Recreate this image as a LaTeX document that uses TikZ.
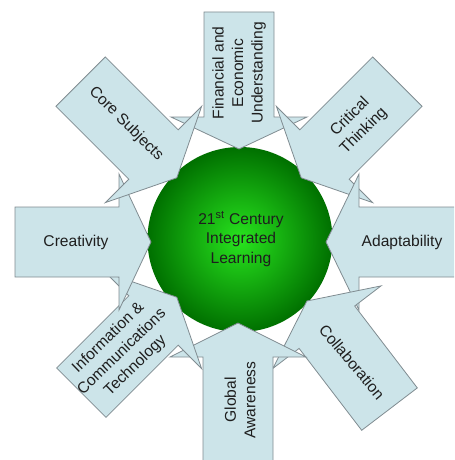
\documentclass[tikz,border=0pt]{standalone}
\usepackage{amsmath}
\usepackage{fontspec}
\setmainfont{Liberation Sans}
\definecolor{armfill}{RGB}{204,228,233}
\definecolor{armline}{RGB}{128,140,145}
\definecolor{ballinner}{RGB}{40,228,30}
\definecolor{ballouter}{RGB}{0,112,0}
\definecolor{armink}{RGB}{30,30,30}

\begin{document}
\begin{tikzpicture}[x=0.75pt,y=0.75pt,yscale=-1,xscale=1,
  blockarrow/.style={draw=armline, fill=armfill, line width=0.6, line join=miter},
  armtext/.style={font=\fontsize{11.7}{14.6}\selectfont, text=armink, align=center, inner sep=0.75pt}]
\useasboundingbox (0,0) rectangle (454,460);
\clip (0,0) rectangle (454,460);

%Shape: Circle [centre ball]
\draw [draw=none, inner color=ballinner, outer color=ballouter] (240,239.5) circle (92.5) ;

%Shape: Block Arrow [financial, down]
\draw [blockarrow] (239,149) -- (307,117) -- (274,117) -- (274,12) -- (204,12) -- (204,117) -- (171,117) -- cycle ;
%Shape: Block Arrow [critical, down left]
\draw [blockarrow] (301.2,177.8) -- (276.4,106.4) -- (299.8,129.8) -- (372.7,56.9) -- (422.1,106.3) -- (349.2,179.2) -- (372.6,202.6) -- cycle ;
%Shape: Block Arrow [adaptability, left]
\draw [blockarrow] (326,242) -- (359,174) -- (359,207) -- (470,207) -- (470,277) -- (359,277) -- (359,310) -- cycle ;
%Shape: Block Arrow [collaboration, up left]
\draw [blockarrow] (306.9,301) -- (381,285.9) -- (354.7,306) -- (417.3,387.9) -- (361.7,430.3) -- (299.1,348.4) -- (272.8,368.5) -- cycle ;
%Shape: Block Arrow [global, up]
\draw [blockarrow] (238,323) -- (306,357) -- (273,357) -- (273,470) -- (203,470) -- (203,357) -- (170,357) -- cycle ;
%Shape: Block Arrow [ict, up right]
\draw [blockarrow] (176.8,297.2) -- (105.4,272.4) -- (128.8,295.8) -- (56.6,368) -- (106,417.4) -- (178.2,345.2) -- (201.6,368.6) -- cycle ;
%Shape: Block Arrow [creativity, right]
\draw [blockarrow] (151,242) -- (119,310) -- (119,277) -- (15,277) -- (15,207) -- (119,207) -- (119,174) -- cycle ;
%Shape: Block Arrow [core, down right]
\draw [blockarrow] (176.8,177.8) -- (201.6,106.4) -- (178.2,129.8) -- (105.3,56.9) -- (55.9,106.3) -- (128.8,179.2) -- (105.4,202.6) -- cycle ;

% Text Node
\draw (239,73) node [armtext, rotate=90] (fin) {Financial and\\Economic\\Understanding};
% Text Node
\draw (126,124) node [armtext, rotate=-45] (core) {Core Subjects};
% Text Node
\draw (357,124) node [armtext, rotate=45] (crit) {Critical\\Thinking};
% Text Node
\draw (76,242) node [armtext] (crea) {Creativity};
% Text Node
\draw (402,242) node [armtext] (adapt) {Adaptability};
% Text Node
\draw (122,352) node [armtext, rotate=44] (ict) {Information \&\\Communications\\Technology};
% Text Node
\draw (240,400) node [armtext, rotate=90] (glob) {Global\\Awareness};
% Text Node
\draw (352,362) node [armtext, rotate=-50] (collab) {Collaboration};
% Text Node
\draw (241,239) node [armtext] (centre) {21\textsuperscript{st} Century\\Integrated\\Learning};

\end{tikzpicture}
\end{document}
